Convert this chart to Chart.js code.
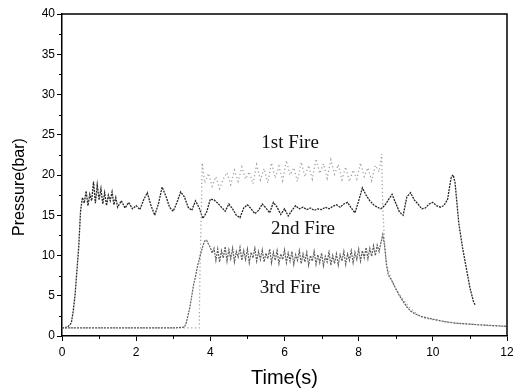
<!DOCTYPE html>
<html>
<head>
<meta charset="utf-8">
<script src="https://cdn.jsdelivr.net/npm/chart.js@4.4.1/dist/chart.umd.min.js"></script>
<style>
  html, body { margin: 0; padding: 0; background: #fff; }
  #wrap { width: 518px; height: 390px; }
</style>
</head>
<body>
<div id="wrap"><canvas id="fireChart" width="518" height="390"></canvas></div>
<script>
// Pressure traces (time in s, pressure in bar)
const fire1Time = [
  0, 1, 2, 3, 3.7, 3.72, 3.75, 3.78, 3.85, 3.95,
  4.05, 4.15, 4.25, 4.35, 4.45, 4.55, 4.65, 4.75, 4.85, 4.95,
  5.05, 5.15, 5.25, 5.35, 5.45, 5.55, 5.65, 5.75, 5.85, 5.95,
  6.05, 6.15, 6.25, 6.35, 6.45, 6.55, 6.65, 6.75, 6.85, 6.95,
  7.05, 7.15, 7.25, 7.35, 7.45, 7.55, 7.65, 7.75, 7.85, 7.95,
  8.05, 8.15, 8.25, 8.35, 8.45, 8.55, 8.62, 8.65, 8.7, 8.75,
  8.85, 9.0, 9.2, 9.4, 9.6, 9.8, 10.0, 10.3, 10.6, 11.0,
  11.5, 12.0
];
const fire1Pressure = [
  1.0, 1.0, 1.0, 1.0, 1.0, 8.0, 14.0, 21.5, 19.0, 20.2,
  18.6, 19.8, 18.3, 19.5, 20.3, 18.8, 20.6, 19.2, 21.0, 19.5,
  20.4, 18.9, 21.3, 19.4, 20.8, 19.0, 21.5, 19.6, 21.1, 19.3,
  21.8, 20.0, 20.9, 19.2, 21.6, 19.8, 21.2, 19.5, 22.0, 20.2,
  21.4, 19.6, 21.9, 20.1, 21.3, 19.4, 21.0, 19.2, 20.6, 19.5,
  21.5, 19.8, 20.9, 19.3, 21.2, 20.4, 22.6, 16.0, 11.5, 9.0,
  7.5, 5.8, 4.5, 3.4, 2.6, 2.2, 2.0, 1.8, 1.6, 1.5,
  1.3, 1.2
];

const fire2Time = [
  0, 0.15, 0.25, 0.3, 0.35, 0.4, 0.45, 0.5, 0.55, 0.6,
  0.65, 0.7, 0.75, 0.8, 0.85, 0.9, 0.95, 1.0, 1.05, 1.1,
  1.15, 1.2, 1.25, 1.3, 1.35, 1.4, 1.45, 1.5, 1.6, 1.7,
  1.8, 1.9, 2.0, 2.1, 2.2, 2.3, 2.4, 2.5, 2.6, 2.7,
  2.8, 2.9, 3.0, 3.1, 3.2, 3.3, 3.4, 3.5, 3.6, 3.7,
  3.8, 3.9, 4.0, 4.1, 4.2, 4.3, 4.4, 4.5, 4.6, 4.7,
  4.8, 4.9, 5.0, 5.1, 5.2, 5.3, 5.4, 5.5, 5.6, 5.7,
  5.8, 5.9, 6.0, 6.1, 6.2, 6.3, 6.4, 6.5, 6.6, 6.7,
  6.8, 6.9, 7.0, 7.1, 7.2, 7.3, 7.4, 7.5, 7.6, 7.7,
  7.8, 7.9, 8.0, 8.1, 8.2, 8.3, 8.4, 8.5, 8.6, 8.7,
  8.8, 8.9, 9.0, 9.1, 9.2, 9.3, 9.4, 9.5, 9.6, 9.7,
  9.8, 9.9, 10.0, 10.1, 10.2, 10.3, 10.4, 10.45, 10.5, 10.55,
  10.6, 10.65, 10.7, 10.8, 10.9, 11.0, 11.1, 11.15
];
const fire2Pressure = [
  1.0, 1.1, 1.6, 3.0, 5.0, 8.0, 11.0, 15.5, 17.2, 16.5,
  18.0, 16.2, 17.6, 16.8, 19.2, 16.5, 18.8, 16.9, 18.3, 16.4,
  17.8, 16.2, 17.5, 16.8, 17.9, 16.3, 17.2, 16.0, 16.8, 15.9,
  16.6, 15.8, 16.2, 15.7, 16.9, 17.8, 16.2, 15.0, 16.4, 18.5,
  17.4, 16.0, 15.5, 16.6, 17.9, 17.3, 16.0, 15.6, 16.8, 15.9,
  14.6, 15.4, 17.0, 16.9, 16.5, 16.0, 15.5, 16.4, 15.8, 15.0,
  14.7, 15.9, 16.3, 15.8, 15.2, 15.6, 16.4, 15.9, 15.3, 16.6,
  16.0, 15.1, 15.8, 14.9, 15.6, 16.2, 15.8, 16.0, 15.7, 15.9,
  15.6, 15.8, 15.7, 16.0, 15.8, 16.1, 16.3, 16.0, 16.4, 16.6,
  15.9, 15.3, 16.8, 18.4, 17.5, 16.8, 16.3, 16.0, 15.8, 16.2,
  16.9, 17.6, 16.5, 15.4, 15.0, 17.3, 17.8, 16.9, 16.4, 15.8,
  15.9, 16.4, 16.6, 16.2, 16.0, 16.2, 17.0, 18.5, 19.8, 20.0,
  19.0, 16.5, 14.0, 11.0, 8.5, 6.0, 4.2, 3.8
];

const fire3Time = [
  0, 1, 2, 3, 3.3, 3.35, 3.4, 3.45, 3.5, 3.55,
  3.6, 3.65, 3.7, 3.75, 3.8, 3.85, 3.9, 3.95, 4.0, 4.05,
  4.1, 4.15, 4.2, 4.25, 4.3, 4.35, 4.4, 4.45, 4.5, 4.55,
  4.6, 4.65, 4.7, 4.75, 4.8, 4.85, 4.9, 4.95, 5.0, 5.05,
  5.1, 5.15, 5.2, 5.25, 5.3, 5.35, 5.4, 5.45, 5.5, 5.55,
  5.6, 5.65, 5.7, 5.75, 5.8, 5.85, 5.9, 5.95, 6.0, 6.05,
  6.1, 6.15, 6.2, 6.25, 6.3, 6.35, 6.4, 6.45, 6.5, 6.55,
  6.6, 6.65, 6.7, 6.75, 6.8, 6.85, 6.9, 6.95, 7.0, 7.05,
  7.1, 7.15, 7.2, 7.25, 7.3, 7.35, 7.4, 7.45, 7.5, 7.55,
  7.6, 7.65, 7.7, 7.75, 7.8, 7.85, 7.9, 7.95, 8.0, 8.05,
  8.1, 8.15, 8.2, 8.25, 8.3, 8.35, 8.4, 8.45, 8.5, 8.55,
  8.6, 8.65, 8.7, 8.75, 8.8, 8.9, 9.0, 9.1, 9.2, 9.3,
  9.4, 9.5, 9.7, 9.9, 10.1, 10.3, 10.6, 10.9, 11.2, 11.6,
  12.0
];
const fire3Pressure = [
  1.0, 1.0, 1.0, 1.0, 1.1, 1.6, 2.6, 3.6, 5.0, 6.4,
  7.4, 8.6, 9.5, 10.4, 11.2, 11.8, 11.9, 11.4, 11.0, 10.3,
  10.9, 9.4, 10.8, 9.2, 10.6, 9.7, 11.1, 9.3, 10.7, 9.6,
  10.9, 9.2, 10.5, 9.8, 11.0, 9.4, 10.6, 9.5, 10.8, 9.1,
  10.4, 9.7, 10.9, 9.3, 10.5, 9.5, 10.7, 9.2, 10.3, 9.6,
  10.8, 9.1, 10.4, 9.4, 10.6, 9.0, 10.2, 9.5, 10.7, 9.1,
  10.3, 9.3, 10.5, 8.9, 10.1, 9.4, 10.6, 9.0, 10.2, 9.2,
  10.4, 8.8, 10.0, 9.3, 10.5, 8.9, 10.1, 9.1, 10.3, 8.7,
  9.9, 9.2, 10.4, 8.8, 10.0, 9.0, 10.2, 8.8, 10.1, 9.3,
  10.5, 8.9, 10.2, 9.4, 10.6, 9.1, 10.4, 9.5, 10.8, 9.3,
  10.6, 9.7, 11.0, 9.6, 10.9, 9.9, 11.2, 10.0, 11.3, 10.5,
  11.6, 12.6, 11.2, 8.8, 7.6, 6.8, 5.9, 5.0, 4.3, 3.6,
  3.1, 2.8, 2.4, 2.2, 2.0, 1.8, 1.6, 1.5, 1.4, 1.3,
  1.2
];

const fireNames = ['1st Fire', '2nd Fire', '3rd Fire'];
const xTicks = [0, 2, 4, 6, 8, 10, 12];
const yTicks = [0, 5, 10, 15, 20, 25, 30, 35, 40];

function toPoints(times, values) {
  return times.map((t, i) => ({ x: t, y: values[i] }));
}

// where the series names sit, in data units
const namePlacement = [
  { x: 6.15, y: 24.0 },
  { x: 6.5, y: 13.3 },
  { x: 6.15, y: 6.0 }
];

// frame, minor ticks, y title and the in-plot series names
const decorations = {
  id: 'decorations',
  afterDraw(chart) {
    const { ctx, chartArea: a, scales } = chart;
    ctx.save();
    ctx.strokeStyle = '#000';
    ctx.lineWidth = 1.5;
    ctx.beginPath();
    ctx.moveTo(a.left, a.top);
    ctx.lineTo(a.right, a.top);
    ctx.lineTo(a.right, a.bottom);
    ctx.stroke();

    ctx.lineWidth = 1;
    ctx.beginPath();
    for (let i = 0; i < xTicks.length - 1; i++) {
      const px = Math.round(scales.x.getPixelForValue((xTicks[i] + xTicks[i + 1]) / 2)) + 0.5;
      ctx.moveTo(px, a.bottom);
      ctx.lineTo(px, a.bottom + 3);
    }
    for (let i = 0; i < yTicks.length - 1; i++) {
      const py = Math.round(scales.y.getPixelForValue((yTicks[i] + yTicks[i + 1]) / 2)) + 0.5;
      ctx.moveTo(a.left, py);
      ctx.lineTo(a.left - 3, py);
    }
    ctx.stroke();

    // y axis title sits a bit below the middle in the original
    ctx.fillStyle = '#000';
    ctx.font = '16px "Liberation Sans", Arial, sans-serif';
    ctx.textAlign = 'center';
    ctx.textBaseline = 'middle';
    ctx.translate(20, 187);
    ctx.rotate(-Math.PI / 2);
    ctx.fillText('Pressure(bar)', 0, 0);
    ctx.setTransform(1, 0, 0, 1, 0, 0);

    ctx.fillStyle = '#111';
    ctx.font = '19px "Liberation Serif", serif';
    fireNames.forEach((name, i) => {
      const p = namePlacement[i];
      ctx.fillText(name, scales.x.getPixelForValue(p.x), scales.y.getPixelForValue(p.y));
    });
    ctx.restore();
  }
};

const ctx = document.getElementById('fireChart').getContext('2d');
new Chart(ctx, {
  type: 'line',
  data: {
    datasets: [
      {
        label: fireNames[2],
        data: toPoints(fire3Time, fire3Pressure),
        borderColor: '#5e5e5e',
        borderWidth: 1.2,
        borderDash: [2, 1]
      },
      {
        label: fireNames[0],
        data: toPoints(fire1Time, fire1Pressure),
        borderColor: '#a2a2a2',
        borderWidth: 1.3,
        borderDash: [1.2, 2.6]
      },
      {
        label: fireNames[1],
        data: toPoints(fire2Time, fire2Pressure),
        borderColor: '#262626',
        borderWidth: 1.3,
        borderDash: [2, 1]
      }
    ]
  },
  options: {
    responsive: false,
    animation: false,
    parsing: false,
    elements: { point: { radius: 0 }, line: { tension: 0 } },
    layout: { padding: { top: 14, right: 11, left: 0, bottom: 0 } },
    plugins: { legend: { display: false }, tooltip: { enabled: false } },
    scales: {
      x: {
        type: 'linear',
        min: 0,
        max: 12,
        afterFit: s => { s.height = 54; },
        afterBuildTicks: s => { s.ticks = xTicks.map(v => ({ value: v })); },
        ticks: {
          color: '#000',
          padding: 4,
          maxRotation: 0,
          font: { family: '"Liberation Sans", Arial, sans-serif', size: 12 }
        },
        grid: { drawOnChartArea: false, drawTicks: true, tickLength: 5, color: '#000' },
        border: { display: true, color: '#000', width: 1.5 },
        title: {
          display: true,
          text: 'Time(s)',
          color: '#000',
          padding: { top: 0, bottom: 0 },
          font: { family: '"Liberation Sans", Arial, sans-serif', size: 20 }
        }
      },
      y: {
        min: 0,
        max: 40,
        afterFit: s => { s.width = 62; },
        afterBuildTicks: s => { s.ticks = yTicks.map(v => ({ value: v })); },
        ticks: {
          color: '#000',
          padding: 2,
          font: { family: '"Liberation Sans", Arial, sans-serif', size: 12 }
        },
        grid: { drawOnChartArea: false, drawTicks: true, tickLength: 5, color: '#000' },
        border: { display: true, color: '#000', width: 1.5 }
      }
    }
  },
  plugins: [decorations]
});
</script>
</body>
</html>
